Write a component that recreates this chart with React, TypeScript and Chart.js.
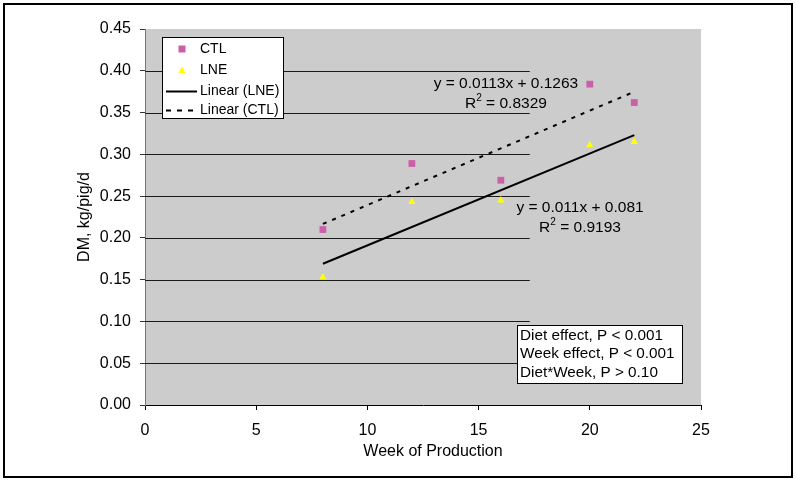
import React, { useEffect, useRef } from 'react';
import { Chart, registerables } from 'chart.js';

Chart.register(...registerables);

// ---- data ----
const weeks = [8, 12, 16, 20, 22];
const ctlValues = [0.21, 0.289, 0.269, 0.384, 0.362];
const lneValues = [0.153, 0.243, 0.245, 0.311, 0.315];
const trendWeeks = [8, 22];
const ctlTrend = [0.2167, 0.3749];
const lneTrend = [0.169, 0.323];
const yTicks = [0, 0.05, 0.1, 0.15, 0.2, 0.25, 0.3, 0.35, 0.4, 0.45];
const xTicks = [0, 5, 10, 15, 20, 25];
const legendLabels = ['CTL', 'LNE', 'Linear (LNE)', 'Linear (CTL)'];
const ctlEquation = 'y = 0.0113x + 0.1263';
const ctlR2 = '0.8329';
const lneEquation = 'y = 0.011x + 0.081';
const lneR2 = '0.9193';
const statsLines = ['Diet effect, P < 0.001', 'Week effect, P < 0.001', 'Diet*Week, P > 0.10'];
const xTitle = 'Week of Production';
const yTitle = 'DM, kg/pig/d';

const FONT = '"Liberation Sans", Arial, Helvetica, sans-serif';
const CTL_COLOR = '#CC5FA8';
const LNE_COLOR = '#FFFF00';
const PLOT_BG = '#CCCCCC';

function drawR2(ctx: CanvasRenderingContext2D, cx: number, cy: number, value: string, size: number) {
  ctx.font = `${size}px ${FONT}`;
  const wR = ctx.measureText('R').width;
  const rest = ' = ' + value;
  const wRest = ctx.measureText(rest).width;
  ctx.font = `${size * 0.65}px ${FONT}`;
  const w2 = ctx.measureText('2').width;
  const total = wR + w2 + wRest;
  let x = cx - total / 2;
  ctx.textAlign = 'left';
  ctx.textBaseline = 'middle';
  ctx.font = `${size}px ${FONT}`;
  ctx.fillText('R', x, cy);
  x += wR;
  ctx.font = `${size * 0.65}px ${FONT}`;
  ctx.fillText('2', x, cy - size * 0.35);
  x += w2;
  ctx.font = `${size}px ${FONT}`;
  ctx.fillText(rest, x, cy);
}

const decorPlugin = {
  id: 'decor',
  beforeDraw(chart: any) {
    const { ctx, chartArea: a, width, height } = chart;
    ctx.save();
    ctx.fillStyle = '#ffffff';
    ctx.fillRect(0, 0, width, height);
    ctx.fillStyle = PLOT_BG;
    ctx.fillRect(a.left, a.top, a.right - a.left, a.bottom - a.top);
    ctx.restore();
  },
  beforeDatasetsDraw(chart: any) {
    const { ctx, chartArea: a, scales } = chart;
    const xEnd = scales.x.getPixelForValue(17.3);
    ctx.save();
    ctx.strokeStyle = '#1a1a1a';
    ctx.lineWidth = 1;
    yTicks.forEach((v) => {
      if (v === 0 || v === 0.45) return;
      const y = Math.round(scales.y.getPixelForValue(v)) + 0.5;
      ctx.beginPath();
      ctx.moveTo(a.left, y);
      ctx.lineTo(xEnd, y);
      ctx.stroke();
    });
    ctx.restore();
  },
  afterDraw(chart: any) {
    const { ctx, scales, width, height, chartArea: a } = chart;
    const xs = scales.x;
    const ys = scales.y;
    ctx.save();
    ctx.fillStyle = '#000';

    // x axis title (slightly right of the plot centre, as in the reference)
    ctx.font = `16px ${FONT}`;
    ctx.textAlign = 'center';
    ctx.textBaseline = 'middle';
    ctx.fillText(xTitle, (a.left + a.right) / 2 + 10, a.bottom + 47);

    // equations
    const eqSize = 15.5;
    ctx.font = `${eqSize}px ${FONT}`;
    ctx.textAlign = 'center';
    ctx.textBaseline = 'middle';
    const c1x = xs.getPixelForValue(16.23);
    ctx.fillText(ctlEquation, c1x, ys.getPixelForValue(0.385));
    drawR2(ctx, c1x, ys.getPixelForValue(0.3605), ctlR2, eqSize);
    const c2x = xs.getPixelForValue(19.56);
    ctx.font = `${eqSize}px ${FONT}`;
    ctx.textAlign = 'center';
    ctx.fillText(lneEquation, c2x, ys.getPixelForValue(0.2357));
    drawR2(ctx, c2x, ys.getPixelForValue(0.2118), lneR2, eqSize);

    // legend box
    const lx = 162, ly = 37, lw = 121, lh = 81;
    ctx.fillStyle = '#fff';
    ctx.fillRect(lx, ly, lw, lh);
    ctx.strokeStyle = '#000';
    ctx.lineWidth = 1;
    ctx.strokeRect(lx + 0.5, ly + 0.5, lw, lh);
    const rows = [49, 70.5, 91.5, 110.5];
    ctx.font = `14px ${FONT}`;
    ctx.textAlign = 'left';
    ctx.textBaseline = 'middle';
    ctx.fillStyle = '#000';
    legendLabels.forEach((t, i) => ctx.fillText(t, 200, rows[i]));
    // markers
    ctx.fillStyle = CTL_COLOR;
    ctx.fillRect(182 - 3.5, rows[0] - 3.5, 7, 7);
    ctx.fillStyle = LNE_COLOR;
    ctx.beginPath();
    ctx.moveTo(182, rows[1] - 4);
    ctx.lineTo(185.6, rows[1] + 2.5);
    ctx.lineTo(178.4, rows[1] + 2.5);
    ctx.closePath();
    ctx.fill();
    ctx.strokeStyle = '#000';
    ctx.lineWidth = 2;
    ctx.beginPath();
    ctx.moveTo(166, rows[2]);
    ctx.lineTo(197, rows[2]);
    ctx.stroke();
    ctx.setLineDash([5, 6]);
    ctx.beginPath();
    ctx.moveTo(166, rows[3]);
    ctx.lineTo(197, rows[3]);
    ctx.stroke();
    ctx.setLineDash([]);

    // stats box
    const bx = 517, by = 325, bw = 165, bh = 58;
    ctx.fillStyle = '#fff';
    ctx.fillRect(bx, by, bw, bh);
    ctx.strokeStyle = '#000';
    ctx.lineWidth = 1;
    ctx.strokeRect(bx + 0.5, by + 0.5, bw, bh);
    ctx.fillStyle = '#000';
    ctx.font = `15.3px ${FONT}`;
    ctx.textAlign = 'left';
    ctx.textBaseline = 'middle';
    statsLines.forEach((t, i) => ctx.fillText(t, bx + 3, by + 10.5 + i * 18.7));

    // outer frame
    ctx.strokeStyle = '#000';
    ctx.lineWidth = 2;
    ctx.strokeRect(4, 4, width - 8, height - 8);
    ctx.restore();
  },
};

export default function App() {
  const ref = useRef<HTMLCanvasElement | null>(null);
  useEffect(() => {
    document.body.style.margin = '0';
    const canvas = ref.current!;
    const chart = new Chart(canvas, {
      type: 'scatter',
      data: {
        datasets: [
          {
            label: legendLabels[0],
            data: weeks.map((w, i) => ({ x: w, y: ctlValues[i] })),
            pointStyle: 'rect',
            pointRadius: 4.8,
            backgroundColor: CTL_COLOR,
            borderColor: CTL_COLOR,
            borderWidth: 0,
            order: 1,
          },
          {
            label: legendLabels[1],
            data: weeks.map((w, i) => ({ x: w, y: lneValues[i] })),
            pointStyle: 'triangle',
            pointRadius: 4.2,
            backgroundColor: LNE_COLOR,
            borderColor: LNE_COLOR,
            borderWidth: 0,
            order: 1,
          },
          {
            label: legendLabels[2],
            data: trendWeeks.map((w, i) => ({ x: w, y: lneTrend[i] })),
            showLine: true,
            pointRadius: 0,
            borderColor: '#000',
            borderWidth: 2,
            order: 2,
          },
          {
            label: legendLabels[3],
            data: trendWeeks.map((w, i) => ({ x: w, y: ctlTrend[i] })),
            showLine: true,
            pointRadius: 0,
            borderColor: '#000',
            borderWidth: 2,
            borderDash: [4, 6],
            order: 2,
          },
        ],
      },
      options: {
        responsive: false,
        animation: false,
        devicePixelRatio: 1,
        layout: { padding: { left: 0, top: 29, right: 95, bottom: 0 } },
        plugins: { legend: { display: false }, tooltip: { enabled: false } },
        scales: {
          x: {
            type: 'linear',
            min: 0,
            max: 25,
            afterBuildTicks: (s: any) => {
              s.ticks = xTicks.map((v) => ({ value: v }));
            },
            afterFit: (s: any) => {
              s.height = 76;
            },
            ticks: { color: '#000', font: { family: FONT, size: 16 }, padding: 11, maxRotation: 0 },
            grid: { drawOnChartArea: false, drawTicks: true, tickLength: 5, color: '#000' },
            border: { color: '#000', width: 1 },
            title: { display: false },
          },
          y: {
            type: 'linear',
            min: 0,
            max: 0.45,
            afterBuildTicks: (s: any) => {
              s.ticks = yTicks.map((v) => ({ value: v }));
            },
            afterFit: (s: any) => {
              s.width = 145;
            },
            ticks: {
              color: '#000',
              font: { family: FONT, size: 16 },
              padding: 9,
              callback: (v: any) => Number(v).toFixed(2),
            },
            grid: { drawOnChartArea: false, drawTicks: true, tickLength: 5, color: '#333' },
            border: { color: '#777', width: 1 },
            title: {
              display: true,
              text: yTitle,
              color: '#000',
              font: { family: FONT, size: 16 },
              padding: { top: 75, bottom: 0 },
            },
          },
        },
      },
      plugins: [decorPlugin],
    } as any);
    return () => chart.destroy();
  }, []);
  return (
    <div style={{ position: 'absolute', left: 0, top: 0 }}>
      <canvas ref={ref} width={796} height={481} style={{ display: 'block', width: 796, height: 481 }} />
    </div>
  );
}
